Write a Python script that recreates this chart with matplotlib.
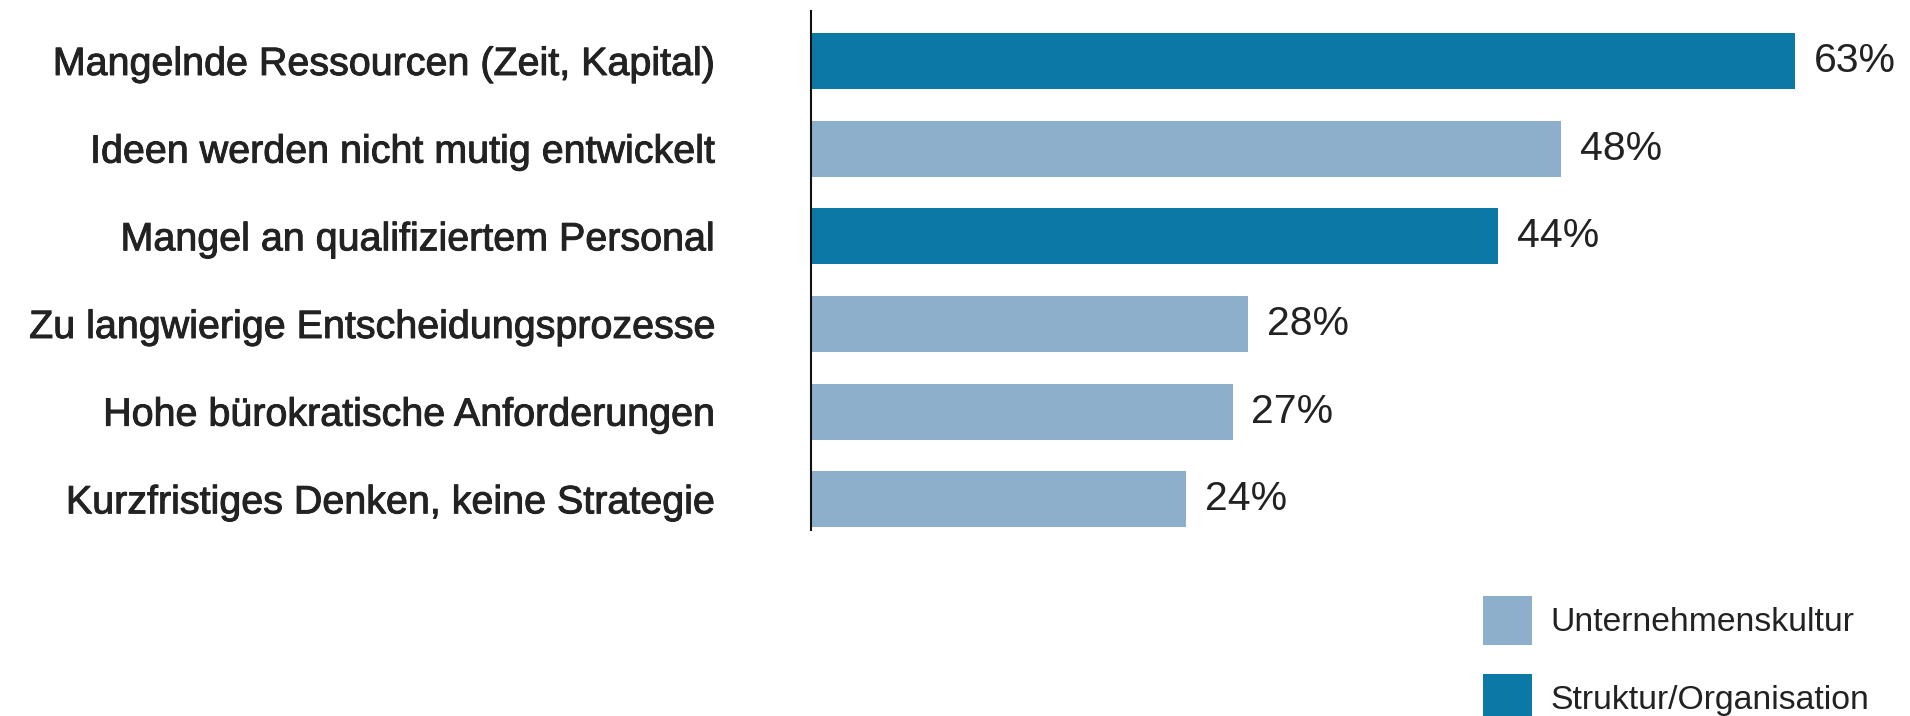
import matplotlib
matplotlib.use("Agg")
import matplotlib.pyplot as plt
from matplotlib.patches import Patch
import matplotlib.patheffects as pe

# Survey answers, top to bottom
categories = [
    "Mangelnde Ressourcen (Zeit, Kapital)",
    "Ideen werden nicht mutig entwickelt",
    "Mangel an qualifiziertem Personal",
    "Zu langwierige Entscheidungsprozesse",
    "Hohe bürokratische Anforderungen",
    "Kurzfristiges Denken, keine Strategie",
]
values = [63, 48, 44, 28, 27, 24]
groups = ["Struktur/Organisation", "Unternehmenskultur", "Struktur/Organisation",
          "Unternehmenskultur", "Unternehmenskultur", "Unternehmenskultur"]
legend_order = ["Unternehmenskultur", "Struktur/Organisation"]

group_colors = {"Unternehmenskultur": "#8EAFCB", "Struktur/Organisation": "#0B78A6"}
text_color = "#222222"

plt.rcParams["font.family"] = ["Liberation Sans", "DejaVu Sans"]

W, H, DPI = 1910, 716, 100
fig = plt.figure(figsize=(W / DPI, H / DPI), dpi=DPI)

ax_left, ax_right = 811, 1910
ax_top, ax_bottom = 11, 530
ax = fig.add_axes([ax_left / W, 1 - ax_bottom / H,
                   (ax_right - ax_left) / W, (ax_bottom - ax_top) / H])

px_per_unit = 15.62
ax.set_xlim(0, (ax_right - ax_left) / px_per_unit)
ax.set_ylim(5.35, -0.57)

ypos = list(range(len(categories)))
bars = ax.barh(ypos, values, height=0.64,
               color=[group_colors[g] for g in groups], linewidth=0)
ax.bar_label(bars, labels=[f"{v}%" for v in values], padding=13.5,
             fontsize=29.5, color=text_color)

ax.set_yticks(ypos)
ax.set_yticklabels(categories, fontsize=28.4, color=text_color)
ax.tick_params(axis="y", length=0, pad=70)
ax.set_xticks([])
# slightly heavier category labels
for lbl in ax.get_yticklabels():
    lbl.set_path_effects([pe.withStroke(linewidth=0.7, foreground=text_color)])

for side in ("top", "right", "bottom"):
    ax.spines[side].set_visible(False)
ax.spines["left"].set_linewidth(1.5)
ax.spines["left"].set_color("#111111")

handles = [Patch(facecolor=group_colors[g], edgecolor="none", label=g)
           for g in legend_order]
fig.legend(handles=handles, loc="upper left",
           bbox_to_anchor=(1483 / W, 1 - 596 / H), bbox_transform=fig.transFigure,
           frameon=False, fontsize=24.3, labelcolor=text_color,
           handlelength=1.45, handleheight=1.85, handletextpad=0.55,
           labelspacing=0.86, borderpad=0, borderaxespad=0)

fig.savefig("out.png", dpi=DPI)
